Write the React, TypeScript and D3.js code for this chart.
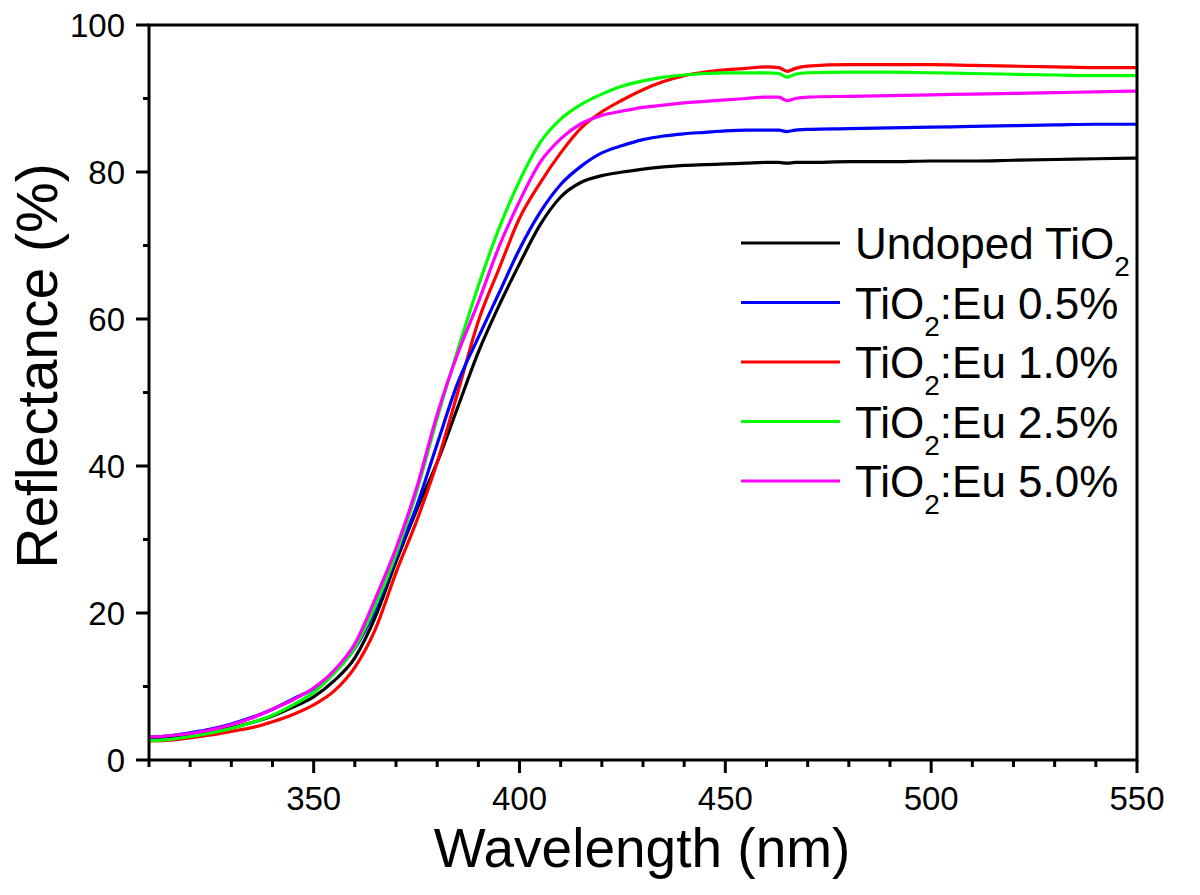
import React from "react";
import * as d3 from "d3";

const wavelengths = [310,315,320,325,330,335,340,345,350,355,360,365,370,375,380,385,390,395,400,405,410,415,420,425,430,435,440,445,450,455,460,463,465,467,470,480,490,500,510,520,530,540,550];

const undoped = [2.9,3.1,3.4,3.9,4.4,5.1,6.0,7.2,8.6,10.8,13.9,19.5,27,34,40.5,48,55.5,61.8,67.5,72.8,76.6,78.6,79.5,80.0,80.4,80.7,80.9,81.0,81.1,81.2,81.3,81.3,81.2,81.3,81.3,81.4,81.4,81.5,81.5,81.6,81.7,81.8,81.9];
const eu05 = [3.1,3.3,3.7,4.2,4.9,5.8,6.9,8.3,9.7,12.0,15.2,20.5,27.5,34.5,43,51.3,57.5,63.5,69.5,74.5,78.3,80.8,82.6,83.6,84.4,84.9,85.2,85.4,85.6,85.7,85.7,85.7,85.5,85.7,85.8,85.9,86.0,86.1,86.2,86.3,86.4,86.5,86.5];
const eu10 = [2.6,2.7,3.0,3.4,3.9,4.4,5.2,6.2,7.5,9.4,12.6,17.8,25.5,32.5,40.5,50,59.7,66.8,73.7,78.5,82.6,86,88.2,89.8,91.2,92.3,93.1,93.6,93.9,94.1,94.3,94.2,93.7,94.1,94.4,94.6,94.6,94.6,94.5,94.4,94.3,94.2,94.2];
const eu25 = [2.6,2.8,3.2,3.7,4.3,5.1,6.1,7.5,9.2,11.8,15.3,21,28,36.5,46.5,55.8,64.5,72.3,78.8,84,87.2,89.2,90.6,91.7,92.4,92.9,93.2,93.4,93.5,93.5,93.5,93.4,92.9,93.3,93.5,93.6,93.6,93.5,93.4,93.3,93.2,93.1,93.1];
const eu50 = [3.1,3.3,3.6,4.1,4.8,5.7,6.9,8.2,9.8,12.2,15.8,22,28.8,37,47,55.3,62.3,69.8,76,81.3,84.5,86.6,87.7,88.3,88.8,89.1,89.4,89.6,89.8,90.0,90.2,90.2,89.7,90.0,90.2,90.3,90.4,90.5,90.6,90.7,90.8,90.9,91.0];

const seriesNames = ["Undoped TiO", "TiO", "TiO", "TiO", "TiO"];
const seriesSuffix = ["", ":Eu 0.5%", ":Eu 1.0%", ":Eu 2.5%", ":Eu 5.0%"];
const seriesColors = ["#000000", "#0000ff", "#ff0000", "#00ff00", "#ff00ff"];
const seriesValues = [undoped, eu05, eu10, eu25, eu50];

const xMajorTicks = [350, 400, 450, 500, 550];
const xMinorTicks = [310,320,330,340,360,370,380,390,410,420,430,440,460,470,480,490,510,520,530,540];
const yMajorTicks = [0, 20, 40, 60, 80, 100];
const yMinorTicks = [10, 30, 50, 70, 90];

const W = 1200, H = 895;
const left = 149, right = 1137, top = 25, bottom = 760;
const font = "'Liberation Sans', Arial, sans-serif";

export default function App() {
  const x = d3.scaleLinear().domain([310, 550]).range([left, right]);
  const y = d3.scaleLinear().domain([0, 100]).range([bottom, top]);
  const line = d3.line<number>()
    .x((_, i) => x(wavelengths[i]))
    .y((d) => y(d))
    .curve(d3.curveMonotoneX);

  const drawOrder = [0, 2, 1, 3, 4];
  const legendY0 = 243, legendDy = 59.5;

  return (
    <div style={{ position: "absolute", left: 0, top: 0 }}>
      <svg width={W} height={H} style={{ display: "block", background: "#fff" }}>
        <defs>
          <clipPath id="plotClip">
            <rect x={left} y={top} width={right - left} height={bottom - top} />
          </clipPath>
        </defs>
        <g clipPath="url(#plotClip)">
          {drawOrder.map((k) => (
            <path key={k} d={line(seriesValues[k]) || ""} fill="none" stroke={seriesColors[k]} strokeWidth={3.2} strokeLinejoin="round" />
          ))}
        </g>
        <rect x={left} y={top} width={right - left} height={bottom - top} fill="none" stroke="#000" strokeWidth={3} />
        {xMajorTicks.map((t) => (
          <g key={"xM" + t}>
            <line x1={x(t)} x2={x(t)} y1={bottom} y2={bottom + 13} stroke="#000" strokeWidth={3} />
            <text x={x(t)} y={810} textAnchor="middle" fontFamily={font} fontSize={33} fill="#000">{t}</text>
          </g>
        ))}
        {xMinorTicks.map((t) => (
          <line key={"xm" + t} x1={x(t)} x2={x(t)} y1={bottom} y2={bottom + 7} stroke="#000" strokeWidth={3} />
        ))}
        {yMajorTicks.map((t) => (
          <g key={"yM" + t}>
            <line x1={left - 13} x2={left} y1={y(t)} y2={y(t)} stroke="#000" strokeWidth={3} />
            <text x={125} y={y(t) + 11.7} textAnchor="end" fontFamily={font} fontSize={33} fill="#000">{t}</text>
          </g>
        ))}
        {yMinorTicks.map((t) => (
          <line key={"ym" + t} x1={left - 6} x2={left} y1={y(t)} y2={y(t)} stroke="#000" strokeWidth={3} />
        ))}
        <text x={642} y={867} textAnchor="middle" fontFamily={font} fontSize={55} fill="#000">Wavelength (nm)</text>
        <text transform={`translate(57,${366}) rotate(-90)`} textAnchor="middle" fontFamily={font} fontSize={57} fill="#000">Reflectance (%)</text>
        {seriesNames.map((name, i) => {
          const ly = legendY0 + i * legendDy;
          return (
            <g key={"lg" + i}>
              <line x1={741} x2={840} y1={ly} y2={ly} stroke={seriesColors[i]} strokeWidth={3.2} />
              <text x={855} y={ly + 16} fontFamily={font} fontSize={44} fill="#000">
                {name}
                <tspan fontSize={28} dy={17}>2</tspan>
                {seriesSuffix[i] ? <tspan dy={-17}>{seriesSuffix[i]}</tspan> : null}
              </text>
            </g>
          );
        })}
      </svg>
    </div>
  );
}
